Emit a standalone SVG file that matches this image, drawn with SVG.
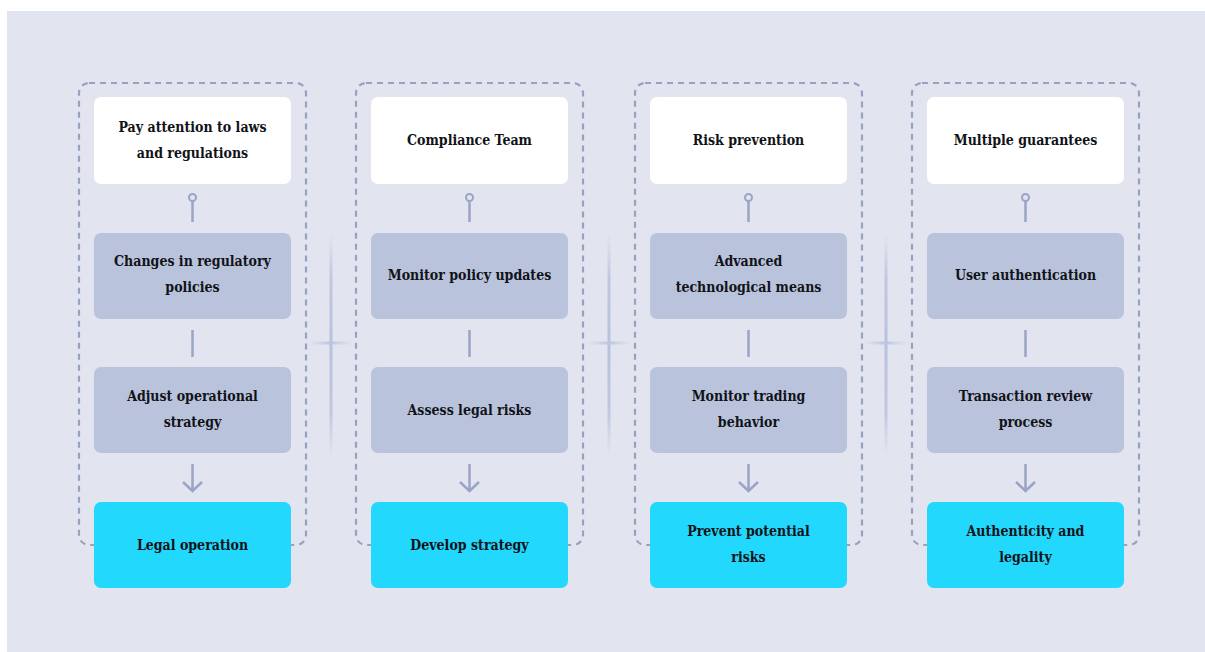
<svg xmlns="http://www.w3.org/2000/svg" width="1205" height="652" viewBox="0 0 1205 652">
<defs>
<style>
.frame{fill:none;stroke:#97a1c0;stroke-width:2.2;stroke-dasharray:6 5}
.top{fill:#ffffff}
.mid{fill:#bac3dc}
.end{fill:#22d8fd}
.lbl{font-family:"DejaVu Serif Condensed","DejaVu Serif",serif;font-weight:bold;font-size:14px;fill:#111318;text-anchor:middle}
.con{stroke:#9aa4c6;stroke-width:2.5;fill:none}
.dot{fill:#e2e5ef;stroke:#9aa4c6;stroke-width:2}
</style>
<linearGradient id="gv" x1="0" y1="0" x2="0" y2="1">
<stop offset="0" stop-color="#c3cbe1" stop-opacity="0"/>
<stop offset="0.2" stop-color="#c0c8e0"/>
<stop offset="0.5" stop-color="#b8c2dd"/>
<stop offset="0.8" stop-color="#c0c8e0"/>
<stop offset="1" stop-color="#c3cbe1" stop-opacity="0"/>
</linearGradient>
<linearGradient id="gh" x1="0" y1="0" x2="1" y2="0">
<stop offset="0" stop-color="#c3cbe1" stop-opacity="0"/>
<stop offset="0.5" stop-color="#bcc5de"/>
<stop offset="1" stop-color="#c3cbe1" stop-opacity="0"/>
</linearGradient>
</defs>
<rect x="0" y="0" width="1205" height="652" fill="#ffffff"/>
<rect x="7" y="11" width="1198" height="641" fill="#e2e5ef"/>
<g id="separators">
<rect x="329.5" y="233" width="3" height="224" fill="url(#gv)"/>
<rect x="309" y="341.5" width="44" height="3" fill="url(#gh)"/>
<rect x="607.5" y="233" width="3" height="224" fill="url(#gv)"/>
<rect x="587" y="341.5" width="44" height="3" fill="url(#gh)"/>
<rect x="884.5" y="233" width="3" height="224" fill="url(#gv)"/>
<rect x="864" y="341.5" width="44" height="3" fill="url(#gh)"/>
</g>
<g id="frames">
<rect class="frame" x="79" y="83" width="227" height="462" rx="10"/>
<rect class="frame" x="356" y="83" width="227" height="462" rx="10"/>
<rect class="frame" x="635" y="83" width="227" height="462" rx="10"/>
<rect class="frame" x="912" y="83" width="227" height="462" rx="10"/>
</g>
<g id="connectors">
<line class="con" x1="192.5" y1="201" x2="192.5" y2="222"/>
<circle class="dot" cx="192.5" cy="197.5" r="3.5"/>
<line class="con" x1="192.5" y1="330" x2="192.5" y2="357"/>
<path class="con" d="M192.5 464 V491 M183 482 L192.5 491 L202 482"/>
<line class="con" x1="469.5" y1="201" x2="469.5" y2="222"/>
<circle class="dot" cx="469.5" cy="197.5" r="3.5"/>
<line class="con" x1="469.5" y1="330" x2="469.5" y2="357"/>
<path class="con" d="M469.5 464 V491 M460 482 L469.5 491 L479 482"/>
<line class="con" x1="748.5" y1="201" x2="748.5" y2="222"/>
<circle class="dot" cx="748.5" cy="197.5" r="3.5"/>
<line class="con" x1="748.5" y1="330" x2="748.5" y2="357"/>
<path class="con" d="M748.5 464 V491 M739 482 L748.5 491 L758 482"/>
<line class="con" x1="1025.5" y1="201" x2="1025.5" y2="222"/>
<circle class="dot" cx="1025.5" cy="197.5" r="3.5"/>
<line class="con" x1="1025.5" y1="330" x2="1025.5" y2="357"/>
<path class="con" d="M1025.5 464 V491 M1016 482 L1025.5 491 L1035 482"/>
</g>
<g id="n1a"><rect class="top" x="94" y="97" width="197" height="87" rx="7"/><text class="lbl" x="192.5" y="132">Pay attention to laws</text><text class="lbl" x="192.5" y="158">and regulations</text></g>
<g id="n1b"><rect class="mid" x="94" y="233" width="197" height="86" rx="7"/><text class="lbl" x="192.5" y="266">Changes in regulatory</text><text class="lbl" x="192.5" y="292">policies</text></g>
<g id="n1c"><rect class="mid" x="94" y="367" width="197" height="86" rx="7"/><text class="lbl" x="192.5" y="401">Adjust operational</text><text class="lbl" x="192.5" y="427">strategy</text></g>
<g id="n1d"><rect class="end" x="94" y="502" width="197" height="86" rx="7"/><text class="lbl" x="192.5" y="550">Legal operation</text></g>

<g id="n2a"><rect class="top" x="371" y="97" width="197" height="87" rx="7"/><text class="lbl" x="469.5" y="145">Compliance Team</text></g>
<g id="n2b"><rect class="mid" x="371" y="233" width="197" height="86" rx="7"/><text class="lbl" x="469.5" y="280">Monitor policy updates</text></g>
<g id="n2c"><rect class="mid" x="371" y="367" width="197" height="86" rx="7"/><text class="lbl" x="469.5" y="415">Assess legal risks</text></g>
<g id="n2d"><rect class="end" x="371" y="502" width="197" height="86" rx="7"/><text class="lbl" x="469.5" y="550">Develop strategy</text></g>

<g id="n3a"><rect class="top" x="650" y="97" width="197" height="87" rx="7"/><text class="lbl" x="748.5" y="145">Risk prevention</text></g>
<g id="n3b"><rect class="mid" x="650" y="233" width="197" height="86" rx="7"/><text class="lbl" x="748.5" y="266">Advanced</text><text class="lbl" x="748.5" y="292">technological means</text></g>
<g id="n3c"><rect class="mid" x="650" y="367" width="197" height="86" rx="7"/><text class="lbl" x="748.5" y="401">Monitor trading</text><text class="lbl" x="748.5" y="427">behavior</text></g>
<g id="n3d"><rect class="end" x="650" y="502" width="197" height="86" rx="7"/><text class="lbl" x="748.5" y="536">Prevent potential</text><text class="lbl" x="748.5" y="562">risks</text></g>

<g id="n4a"><rect class="top" x="927" y="97" width="197" height="87" rx="7"/><text class="lbl" x="1025.5" y="145">Multiple guarantees</text></g>
<g id="n4b"><rect class="mid" x="927" y="233" width="197" height="86" rx="7"/><text class="lbl" x="1025.5" y="280">User authentication</text></g>
<g id="n4c"><rect class="mid" x="927" y="367" width="197" height="86" rx="7"/><text class="lbl" x="1025.5" y="401">Transaction review</text><text class="lbl" x="1025.5" y="427">process</text></g>
<g id="n4d"><rect class="end" x="927" y="502" width="197" height="86" rx="7"/><text class="lbl" x="1025.5" y="536">Authenticity and</text><text class="lbl" x="1025.5" y="562">legality</text></g>
</svg>
